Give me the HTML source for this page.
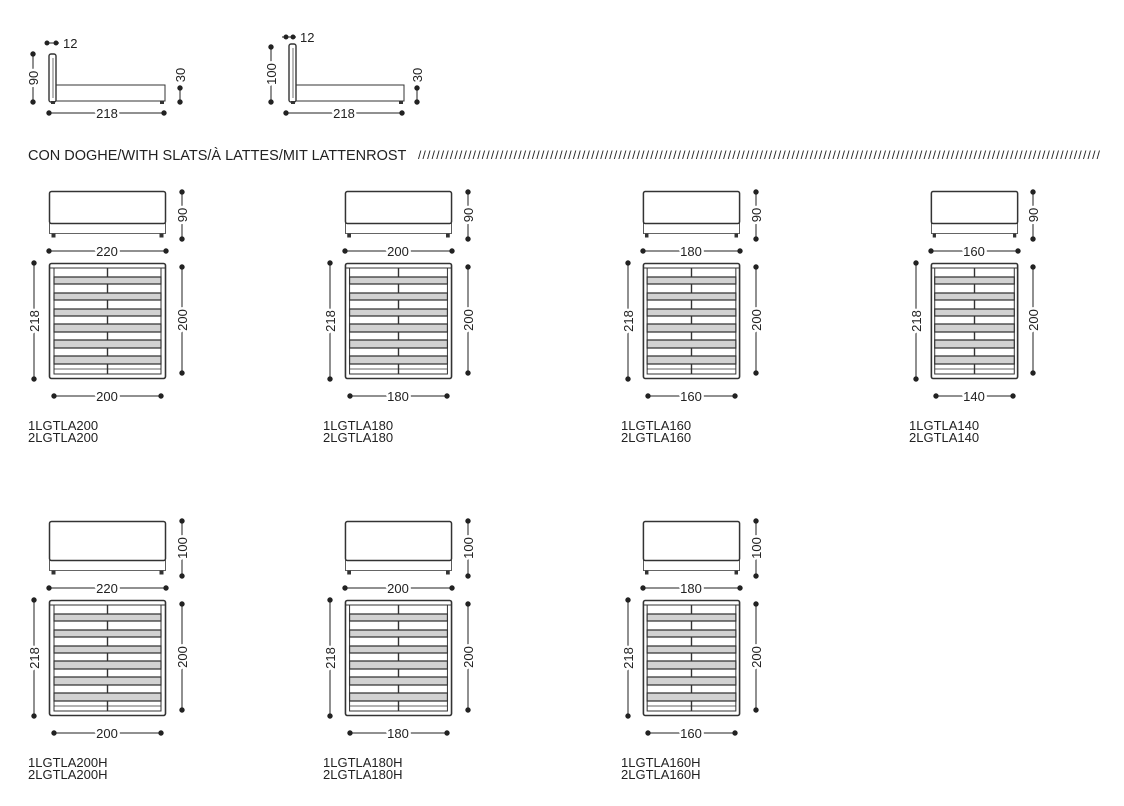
<!DOCTYPE html>
<html><head><meta charset="utf-8"><style>
html,body{margin:0;padding:0;background:#fff}
svg{display:block}
text{font-family:"Liberation Sans",sans-serif;fill:#222;font-size:13px}
.d{stroke:#222;stroke-width:1}
.t{paint-order:stroke;stroke:#fff;stroke-width:5px;stroke-linejoin:round}
</style></head><body>
<svg width="1124" height="806" viewBox="0 0 1124 806" xmlns="http://www.w3.org/2000/svg">
<defs>
<g id="plan" fill="none" stroke="#333">
<rect x="0.5" y="0.5" width="116" height="115" rx="2" stroke-width="1.6" vector-effect="non-scaling-stroke"/>
<line x1="0" y1="5" x2="117" y2="5" stroke-width="1" vector-effect="non-scaling-stroke"/>
<rect x="5" y="5" width="107" height="106" stroke-width="1" vector-effect="non-scaling-stroke"/>
<line x1="58.5" y1="5" x2="58.5" y2="111" stroke-width="1.4" vector-effect="non-scaling-stroke"/>
<g fill="#d2d2d2" stroke-width="1.2">
<rect x="5" y="14" width="107" height="7" vector-effect="non-scaling-stroke"/>
<rect x="5" y="30" width="107" height="7" vector-effect="non-scaling-stroke"/>
<rect x="5" y="46" width="107" height="7" vector-effect="non-scaling-stroke"/>
<rect x="5" y="61" width="107" height="8" vector-effect="non-scaling-stroke"/>
<rect x="5" y="77" width="107" height="8" vector-effect="non-scaling-stroke"/>
<rect x="5" y="93" width="107" height="8" vector-effect="non-scaling-stroke"/>
</g>
<line x1="5" y1="106" x2="112" y2="106" stroke-width="0.8" vector-effect="non-scaling-stroke"/>
</g>
<g id="front1" fill="none" stroke="#333">
<rect x="0.5" y="0.5" width="116" height="32" rx="2" stroke-width="1.5" vector-effect="non-scaling-stroke"/>
<rect x="0.5" y="32.5" width="116" height="10" stroke-width="0.8" vector-effect="non-scaling-stroke"/>
<rect x="3" y="43" width="3" height="3" fill="#333" vector-effect="non-scaling-stroke"/>
<rect x="111" y="43" width="3" height="3" fill="#333" vector-effect="non-scaling-stroke"/>
</g>
<g id="front2" fill="none" stroke="#333">
<rect x="0.5" y="0.5" width="116" height="39" rx="2" stroke-width="1.5" vector-effect="non-scaling-stroke"/>
<rect x="0.5" y="39.5" width="116" height="10" stroke-width="0.8" vector-effect="non-scaling-stroke"/>
<rect x="3" y="50" width="3" height="3" fill="#333" vector-effect="non-scaling-stroke"/>
<rect x="111" y="50" width="3" height="3" fill="#333" vector-effect="non-scaling-stroke"/>
</g>
</defs>

<g fill="none" stroke="#333">
<rect x="49" y="54" width="7" height="48" rx="2" stroke-width="1.4"/>
<line x1="53" y1="58" x2="53" y2="98" stroke-width="0.7"/>
<rect x="56" y="85" width="109" height="16" stroke-width="1"/>
<rect x="289" y="44" width="7" height="58" rx="2" stroke-width="1.4"/>
<line x1="293" y1="48" x2="293" y2="98" stroke-width="0.7"/>
<rect x="296" y="85" width="108" height="16" stroke-width="1"/>
</g>
<g fill="#333"><rect x="51" y="101" width="4" height="3"/><rect x="160" y="101" width="4" height="3"/><rect x="291" y="101" width="4" height="3"/><rect x="399" y="101" width="4" height="3"/></g>
<g class="d" fill="#222">
<line x1="45" y1="43" x2="59" y2="43"/><circle cx="47" cy="43" r="2"/><circle cx="56" cy="43" r="2"/>
<line x1="33" y1="54" x2="33" y2="102"/><circle cx="33" cy="54" r="2.2"/><circle cx="33" cy="102" r="2.2"/>
<line x1="180" y1="88" x2="180" y2="102"/><circle cx="180" cy="88" r="2.2"/><circle cx="180" cy="102" r="2.2"/>
<line x1="49" y1="113" x2="164" y2="113"/><circle cx="49" cy="113" r="2.2"/><circle cx="164" cy="113" r="2.2"/>
<line x1="282" y1="37" x2="296" y2="37"/><circle cx="286" cy="37" r="2"/><circle cx="293" cy="37" r="2"/>
<line x1="271" y1="47" x2="271" y2="102"/><circle cx="271" cy="47" r="2.2"/><circle cx="271" cy="102" r="2.2"/>
<line x1="417" y1="88" x2="417" y2="102"/><circle cx="417" cy="88" r="2.2"/><circle cx="417" cy="102" r="2.2"/>
<line x1="286" y1="113" x2="402" y2="113"/><circle cx="286" cy="113" r="2.2"/><circle cx="402" cy="113" r="2.2"/>
</g>
<text x="63" y="48">12</text>
<text x="300" y="42">12</text>
<text class="t" x="107" y="118" text-anchor="middle">218</text>
<text class="t" x="344" y="118" text-anchor="middle">218</text>
<text class="t" transform="translate(38,78) rotate(-90)" text-anchor="middle">90</text>
<text class="t" transform="translate(185,75) rotate(-90)" text-anchor="middle">30</text>
<text class="t" transform="translate(276,74) rotate(-90)" text-anchor="middle">100</text>
<text class="t" transform="translate(422,75) rotate(-90)" text-anchor="middle">30</text>

<text x="28" y="160" style="font-size:14.5px">CON DOGHE/WITH SLATS/À LATTES/MIT LATTENROST</text>
<text x="418" y="159" style="font-size:12px" textLength="682" lengthAdjust="spacing">//////////////////////////////////////////////////////////////////////////////////////////////////////////////////////////////////////////////////////</text>

<use href="#front1" transform="translate(49,191)"/>
<use href="#plan" transform="translate(49,263)"/>
<use href="#front1" transform="translate(345,191) scale(0.9145,1)"/>
<use href="#plan" transform="translate(345,263) scale(0.9145,1)"/>
<use href="#front1" transform="translate(643,191) scale(0.829,1)"/>
<use href="#plan" transform="translate(643,263) scale(0.829,1)"/>
<use href="#front1" transform="translate(931,191) scale(0.7436,1)"/>
<use href="#plan" transform="translate(931,263) scale(0.7436,1)"/>
<use href="#front2" transform="translate(49,521)"/>
<use href="#plan" transform="translate(49,600)"/>
<use href="#front2" transform="translate(345,521) scale(0.9145,1)"/>
<use href="#plan" transform="translate(345,600) scale(0.9145,1)"/>
<use href="#front2" transform="translate(643,521) scale(0.829,1)"/>
<use href="#plan" transform="translate(643,600) scale(0.829,1)"/>

<g class="d" fill="#222">
<line x1="182" y1="192" x2="182" y2="239"/><circle cx="182" cy="192" r="2.2"/><circle cx="182" cy="239" r="2.2"/>
<line x1="49" y1="251" x2="166" y2="251"/><circle cx="49" cy="251" r="2.2"/><circle cx="166" cy="251" r="2.2"/>
<line x1="34" y1="263" x2="34" y2="379"/><circle cx="34" cy="263" r="2.2"/><circle cx="34" cy="379" r="2.2"/>
<line x1="182" y1="267" x2="182" y2="373"/><circle cx="182" cy="267" r="2.2"/><circle cx="182" cy="373" r="2.2"/>
<line x1="54" y1="396" x2="161" y2="396"/><circle cx="54" cy="396" r="2.2"/><circle cx="161" cy="396" r="2.2"/>
<line x1="468" y1="192" x2="468" y2="239"/><circle cx="468" cy="192" r="2.2"/><circle cx="468" cy="239" r="2.2"/>
<line x1="345" y1="251" x2="452" y2="251"/><circle cx="345" cy="251" r="2.2"/><circle cx="452" cy="251" r="2.2"/>
<line x1="330" y1="263" x2="330" y2="379"/><circle cx="330" cy="263" r="2.2"/><circle cx="330" cy="379" r="2.2"/>
<line x1="468" y1="267" x2="468" y2="373"/><circle cx="468" cy="267" r="2.2"/><circle cx="468" cy="373" r="2.2"/>
<line x1="350" y1="396" x2="447" y2="396"/><circle cx="350" cy="396" r="2.2"/><circle cx="447" cy="396" r="2.2"/>
<line x1="756" y1="192" x2="756" y2="239"/><circle cx="756" cy="192" r="2.2"/><circle cx="756" cy="239" r="2.2"/>
<line x1="643" y1="251" x2="740" y2="251"/><circle cx="643" cy="251" r="2.2"/><circle cx="740" cy="251" r="2.2"/>
<line x1="628" y1="263" x2="628" y2="379"/><circle cx="628" cy="263" r="2.2"/><circle cx="628" cy="379" r="2.2"/>
<line x1="756" y1="267" x2="756" y2="373"/><circle cx="756" cy="267" r="2.2"/><circle cx="756" cy="373" r="2.2"/>
<line x1="648" y1="396" x2="735" y2="396"/><circle cx="648" cy="396" r="2.2"/><circle cx="735" cy="396" r="2.2"/>
<line x1="1033" y1="192" x2="1033" y2="239"/><circle cx="1033" cy="192" r="2.2"/><circle cx="1033" cy="239" r="2.2"/>
<line x1="931" y1="251" x2="1018" y2="251"/><circle cx="931" cy="251" r="2.2"/><circle cx="1018" cy="251" r="2.2"/>
<line x1="916" y1="263" x2="916" y2="379"/><circle cx="916" cy="263" r="2.2"/><circle cx="916" cy="379" r="2.2"/>
<line x1="1033" y1="267" x2="1033" y2="373"/><circle cx="1033" cy="267" r="2.2"/><circle cx="1033" cy="373" r="2.2"/>
<line x1="936" y1="396" x2="1013" y2="396"/><circle cx="936" cy="396" r="2.2"/><circle cx="1013" cy="396" r="2.2"/>
<line x1="182" y1="521" x2="182" y2="576"/><circle cx="182" cy="521" r="2.2"/><circle cx="182" cy="576" r="2.2"/>
<line x1="49" y1="588" x2="166" y2="588"/><circle cx="49" cy="588" r="2.2"/><circle cx="166" cy="588" r="2.2"/>
<line x1="34" y1="600" x2="34" y2="716"/><circle cx="34" cy="600" r="2.2"/><circle cx="34" cy="716" r="2.2"/>
<line x1="182" y1="604" x2="182" y2="710"/><circle cx="182" cy="604" r="2.2"/><circle cx="182" cy="710" r="2.2"/>
<line x1="54" y1="733" x2="161" y2="733"/><circle cx="54" cy="733" r="2.2"/><circle cx="161" cy="733" r="2.2"/>
<line x1="468" y1="521" x2="468" y2="576"/><circle cx="468" cy="521" r="2.2"/><circle cx="468" cy="576" r="2.2"/>
<line x1="345" y1="588" x2="452" y2="588"/><circle cx="345" cy="588" r="2.2"/><circle cx="452" cy="588" r="2.2"/>
<line x1="330" y1="600" x2="330" y2="716"/><circle cx="330" cy="600" r="2.2"/><circle cx="330" cy="716" r="2.2"/>
<line x1="468" y1="604" x2="468" y2="710"/><circle cx="468" cy="604" r="2.2"/><circle cx="468" cy="710" r="2.2"/>
<line x1="350" y1="733" x2="447" y2="733"/><circle cx="350" cy="733" r="2.2"/><circle cx="447" cy="733" r="2.2"/>
<line x1="756" y1="521" x2="756" y2="576"/><circle cx="756" cy="521" r="2.2"/><circle cx="756" cy="576" r="2.2"/>
<line x1="643" y1="588" x2="740" y2="588"/><circle cx="643" cy="588" r="2.2"/><circle cx="740" cy="588" r="2.2"/>
<line x1="628" y1="600" x2="628" y2="716"/><circle cx="628" cy="600" r="2.2"/><circle cx="628" cy="716" r="2.2"/>
<line x1="756" y1="604" x2="756" y2="710"/><circle cx="756" cy="604" r="2.2"/><circle cx="756" cy="710" r="2.2"/>
<line x1="648" y1="733" x2="735" y2="733"/><circle cx="648" cy="733" r="2.2"/><circle cx="735" cy="733" r="2.2"/>
</g>

<g class="t" text-anchor="middle">
<text transform="translate(187,215) rotate(-90)">90</text>
<text x="107" y="256">220</text>
<text transform="translate(39,321) rotate(-90)">218</text>
<text transform="translate(187,320) rotate(-90)">200</text>
<text x="107" y="401">200</text>
<text transform="translate(473,215) rotate(-90)">90</text>
<text x="398" y="256">200</text>
<text transform="translate(335,321) rotate(-90)">218</text>
<text transform="translate(473,320) rotate(-90)">200</text>
<text x="398" y="401">180</text>
<text transform="translate(761,215) rotate(-90)">90</text>
<text x="691" y="256">180</text>
<text transform="translate(633,321) rotate(-90)">218</text>
<text transform="translate(761,320) rotate(-90)">200</text>
<text x="691" y="401">160</text>
<text transform="translate(1038,215) rotate(-90)">90</text>
<text x="974" y="256">160</text>
<text transform="translate(921,321) rotate(-90)">218</text>
<text transform="translate(1038,320) rotate(-90)">200</text>
<text x="974" y="401">140</text>
<text transform="translate(187,548) rotate(-90)">100</text>
<text x="107" y="593">220</text>
<text transform="translate(39,658) rotate(-90)">218</text>
<text transform="translate(187,657) rotate(-90)">200</text>
<text x="107" y="738">200</text>
<text transform="translate(473,548) rotate(-90)">100</text>
<text x="398" y="593">200</text>
<text transform="translate(335,658) rotate(-90)">218</text>
<text transform="translate(473,657) rotate(-90)">200</text>
<text x="398" y="738">180</text>
<text transform="translate(761,548) rotate(-90)">100</text>
<text x="691" y="593">180</text>
<text transform="translate(633,658) rotate(-90)">218</text>
<text transform="translate(761,657) rotate(-90)">200</text>
<text x="691" y="738">160</text>
</g>

<g style="font-size:12px">
<text x="28" y="430">1LGTLA200</text><text x="28" y="442">2LGTLA200</text>
<text x="323" y="430">1LGTLA180</text><text x="323" y="442">2LGTLA180</text>
<text x="621" y="430">1LGTLA160</text><text x="621" y="442">2LGTLA160</text>
<text x="909" y="430">1LGTLA140</text><text x="909" y="442">2LGTLA140</text>
<text x="28" y="767">1LGTLA200H</text><text x="28" y="779">2LGTLA200H</text>
<text x="323" y="767">1LGTLA180H</text><text x="323" y="779">2LGTLA180H</text>
<text x="621" y="767">1LGTLA160H</text><text x="621" y="779">2LGTLA160H</text>
</g>
</svg>
</body></html>
